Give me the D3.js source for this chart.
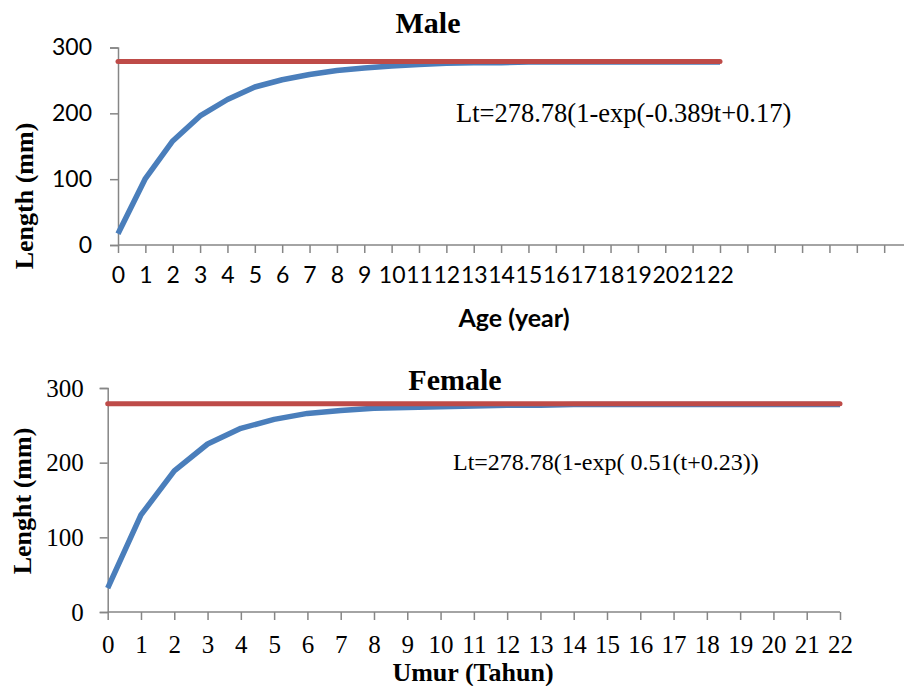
<!DOCTYPE html>
<html>
<head>
<meta charset="utf-8">
<script src="https://cdn.jsdelivr.net/npm/d3@7"></script>
<style>
  body { margin: 0; background: #fff; }
  svg { display: block; }
</style>
</head>
<body>
<div id="chart"></div>
<script>
// ages (years) shared by both panels
const ages = [0, 1, 2, 3, 4, 5, 6, 7, 8, 9, 10, 11, 12, 13, 14, 15, 16, 17, 18, 19, 20, 21, 22]

// Male: observed von Bertalanffy curve and L-infinity line
const maleLength = [17, 101, 158, 196, 221, 240, 251, 259, 265, 269, 272, 274, 276, 277, 277, 278, 278, 278, 278, 278, 278, 278, 278]
const maleLinf = [278.78, 278.78, 278.78, 278.78, 278.78, 278.78, 278.78, 278.78, 278.78, 278.78, 278.78, 278.78, 278.78, 278.78, 278.78, 278.78, 278.78, 278.78, 278.78, 278.78, 278.78, 278.78, 278.78]

// Female
const femaleLength = [32, 130, 189, 225, 246, 258, 266, 270, 273, 274, 275, 276, 277, 277, 278, 278, 278, 278, 278, 278, 278, 278, 278]
const femaleLinf = [278.78, 278.78, 278.78, 278.78, 278.78, 278.78, 278.78, 278.78, 278.78, 278.78, 278.78, 278.78, 278.78, 278.78, 278.78, 278.78, 278.78, 278.78, 278.78, 278.78, 278.78, 278.78, 278.78]

const yTicks = [0, 100, 200, 300]
const maleXTicks = [0, 1, 2, 3, 4, 5, 6, 7, 8, 9, 10, 11, 12, 13, 14, 15, 16, 17, 18, 19, 20, 21, 22, 23, 24, 25, 26, 27, 28]

const W = 904, H = 686
const blue = "#4a7ebb", red = "#be4b48", axisGrey = "#868686"

const svg = d3.select("#chart").append("svg")
    .attr("width", W)
    .attr("height", H)

function drawPanel(opts) {
    const g = svg.append("g")

    const x = d3.scaleLinear().domain([0, 22]).range(opts.xRange)
    const y = d3.scaleLinear().domain([0, 300]).range(opts.yRange)

    // y axis
    const yAxis = d3.axisLeft(y).tickValues(yTicks).tickSize(8).tickPadding(opts.yPad)
    const ya = g.append("g")
        .attr("transform", "translate(" + opts.xRange[0] + ",0)")
        .call(yAxis)
    ya.select(".domain").attr("stroke", axisGrey).attr("stroke-width", 1.5)
    ya.selectAll(".tick line").attr("stroke", axisGrey).attr("stroke-width", 1.5)
    ya.selectAll(".tick text")
        .attr("fill", "#000")
        .style("font-family", opts.tickFont)
        .style("font-size", opts.tickSize + "px")

    // x axis
    const xAxis = d3.axisBottom(x).tickValues(opts.xTicks).tickSize(8).tickSizeOuter(0)
        .tickPadding(opts.xPad)
        .tickFormat(d => d <= 22 ? d : "")
    const xa = g.append("g")
        .attr("transform", "translate(0," + opts.yRange[0] + ")")
        .call(xAxis)
    xa.select(".domain").remove()
    xa.append("line")
        .attr("x1", opts.xRange[0]).attr("x2", opts.axisEnd)
        .attr("stroke", axisGrey).attr("stroke-width", 1.5)
    xa.selectAll(".tick line").attr("stroke", axisGrey).attr("stroke-width", 1.5)
    xa.selectAll(".tick text")
        .attr("fill", "#000")
        .style("font-family", opts.tickFont)
        .style("font-size", opts.tickSize + "px")

    const line = d3.line()
        .x((d, i) => x(ages[i]))
        .y(d => y(d))

    g.append("path")
        .datum(opts.length)
        .attr("d", line)
        .attr("fill", "none")
        .attr("stroke", blue)
        .attr("stroke-width", 5.5)
        .attr("stroke-linejoin", "round")

    g.append("path")
        .datum(opts.linf)
        .attr("d", line)
        .attr("fill", "none")
        .attr("stroke", red)
        .attr("stroke-width", 5)
        .attr("stroke-linecap", "round")

    // titles
    g.append("text")
        .attr("x", opts.titleX).attr("y", opts.titleY)
        .attr("text-anchor", "middle")
        .style("font-family", "Liberation Serif")
        .style("font-weight", "bold")
        .style("font-size", "30px")
        .text(opts.title)

    g.append("text")
        .attr("transform", "translate(" + opts.yLabelX + "," + opts.yLabelY + ") rotate(-90)")
        .attr("text-anchor", "middle")
        .style("font-family", "Liberation Serif")
        .style("font-weight", "bold")
        .style("font-size", "26px")
        .text(opts.yLabel)

    g.append("text")
        .attr("x", opts.xLabelX).attr("y", opts.xLabelY)
        .attr("text-anchor", "middle")
        .style("font-family", opts.xLabelFont)
        .style("font-weight", "bold")
        .style("font-size", opts.xLabelSize + "px")
        .text(opts.xLabel)

    g.append("text")
        .attr("x", opts.eqX).attr("y", opts.eqY)
        .style("font-family", "Liberation Serif")
        .style("font-size", opts.eqSize + "px")
        .text(opts.eq)
}

drawPanel({
    xRange: [118, 720], yRange: [245, 47.5], axisEnd: W,
    xTicks: maleXTicks,
    tickFont: "Lato", tickSize: 23, yPad: 18, xPad: 14,
    length: maleLength, linf: maleLinf,
    title: "Male", titleX: 428, titleY: 33,
    yLabel: "Length (mm)", yLabelX: 33, yLabelY: 196,
    xLabel: "Age (year)", xLabelX: 514, xLabelY: 327, xLabelFont: "Lato", xLabelSize: 25,
    eq: "Lt=278.78(1-exp(-0.389t+0.17)", eqX: 456, eqY: 122, eqSize: 26.5
})

drawPanel({
    xRange: [107.7, 840], yRange: [612, 388], axisEnd: 840,
    xTicks: ages,
    tickFont: "Liberation Serif", tickSize: 25, yPad: 16, xPad: 15,
    length: femaleLength, linf: femaleLinf,
    title: "Female", titleX: 455, titleY: 390,
    yLabel: "Lenght (mm)", yLabelX: 31, yLabelY: 501,
    xLabel: "Umur (Tahun)", xLabelX: 473, xLabelY: 681, xLabelFont: "Liberation Serif", xLabelSize: 26,
    eq: "Lt=278.78(1-exp( 0.51(t+0.23))", eqX: 453, eqY: 470, eqSize: 24
})
</script>
</body>
</html>
